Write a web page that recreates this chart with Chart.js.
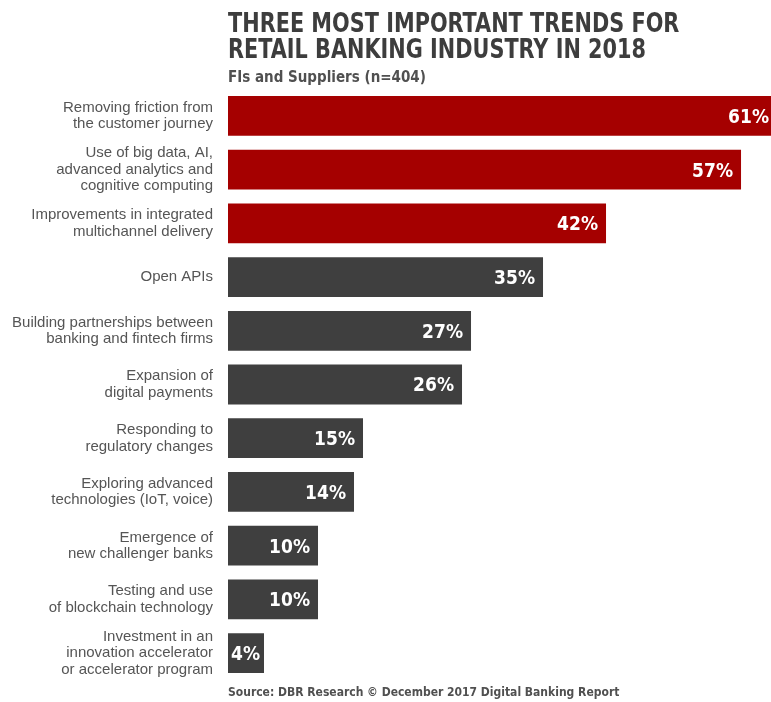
<!DOCTYPE html>
<html>
<head>
<meta charset="utf-8">
<script src="https://cdn.jsdelivr.net/npm/chart.js@4"></script>
<style>
  body { margin: 0; background: #fff; }
  #wrap { position: relative; width: 771px; height: 702px; overflow: hidden; }
  .txt { position: absolute; left: 228px; color: #3d3d3d; white-space: nowrap; font-family: "Liberation Sans Narrow", "DejaVu Sans Condensed", "Liberation Sans", sans-serif; font-weight: bold; transform-origin: left top; }
  #title { top: 10px; font-size: 26px; line-height: 26px; transform: scaleX(0.89); }
  #subtitle { top: 69px; font-size: 15px; line-height: 17px; color: #505050; }
  #source { top: 685px; font-size: 12px; line-height: 14px; color: #505050; }
</style>
</head>
<body>
<div id="wrap">
  <canvas id="barChart" width="771" height="702"></canvas>
  <div class="txt" id="title">THREE MOST IMPORTANT TRENDS FOR<br>RETAIL BANKING INDUSTRY IN 2018</div>
  <div class="txt" id="subtitle">FIs and Suppliers (n=404)</div>
  <div class="txt" id="source">Source: DBR Research © December 2017 Digital Banking Report</div>
</div>
<script>
// Datos
const trends = [
    ['Removing friction from', 'the customer journey'],
    ['Use of big data, AI,', 'advanced analytics and', 'cognitive computing'],
    ['Improvements in integrated', 'multichannel delivery'],
    ['Open APIs'],
    ['Building partnerships between', 'banking and fintech firms'],
    ['Expansion of', 'digital payments'],
    ['Responding to', 'regulatory changes'],
    ['Exploring advanced', 'technologies (IoT, voice)'],
    ['Emergence of', 'new challenger banks'],
    ['Testing and use', 'of blockchain technology'],
    ['Investment in an', 'innovation accelerator', 'or accelerator program']
];
const percentages = [61, 57, 42, 35, 27, 26, 15, 14, 10, 10, 4];
const topThree = [true, true, true, false, false, false, false, false, false, false, false];

const RED = '#a50000';
const GREY = '#3f3f3f';

// Etiquetas de porcentaje dentro de cada barra
const valueLabels = {
    id: 'valueLabels',
    afterDatasetsDraw(chart) {
        const ctx = chart.ctx;
        const meta = chart.getDatasetMeta(0);
        ctx.save();
        ctx.fillStyle = '#ffffff';
        ctx.font = 'bold 19px "Liberation Sans Narrow", "DejaVu Sans Condensed", "Liberation Sans", sans-serif';
        ctx.textAlign = 'right';
        ctx.textBaseline = 'middle';
        meta.data.forEach((bar, i) => {
            const text = percentages[i] + '%';
            const w = ctx.measureText(text).width;
            // si la barra es corta, el texto empieza justo dentro de ella
            const x = Math.max(bar.x - 8, bar.base + 3 + w);
            ctx.fillText(text, x, bar.y + 2);
        });
        ctx.restore();
    }
};

const ctx = document.getElementById('barChart').getContext('2d');
const myChart = new Chart(ctx, {
    type: 'bar',
    data: {
        labels: trends,
        datasets: [{
            data: percentages,
            backgroundColor: topThree.map(t => t ? RED : GREY),
            borderWidth: 0,
            barPercentage: 0.74,
            categoryPercentage: 1
        }]
    },
    options: {
        indexAxis: 'y',
        responsive: false,
        animation: false,
        layout: { padding: { top: 89, bottom: 22, left: 0, right: 0 } },
        plugins: {
            legend: { display: false },
            tooltip: { enabled: false }
        },
        scales: {
            x: {
                display: false,
                min: 0,
                max: 60.33
            },
            y: {
                grid: { display: false, drawTicks: false },
                border: { display: false },
                ticks: {
                    padding: 15,
                    color: '#555555',
                    font: { family: '"Liberation Sans", Arial, sans-serif', size: 15, lineHeight: '16.5px' }
                },
                afterFit(scale) {
                    scale.width = 228;
                    scale.paddingTop = 0;
                    scale.paddingBottom = 0;
                }
            }
        }
    },
    plugins: [valueLabels]
});
</script>
</body>
</html>
